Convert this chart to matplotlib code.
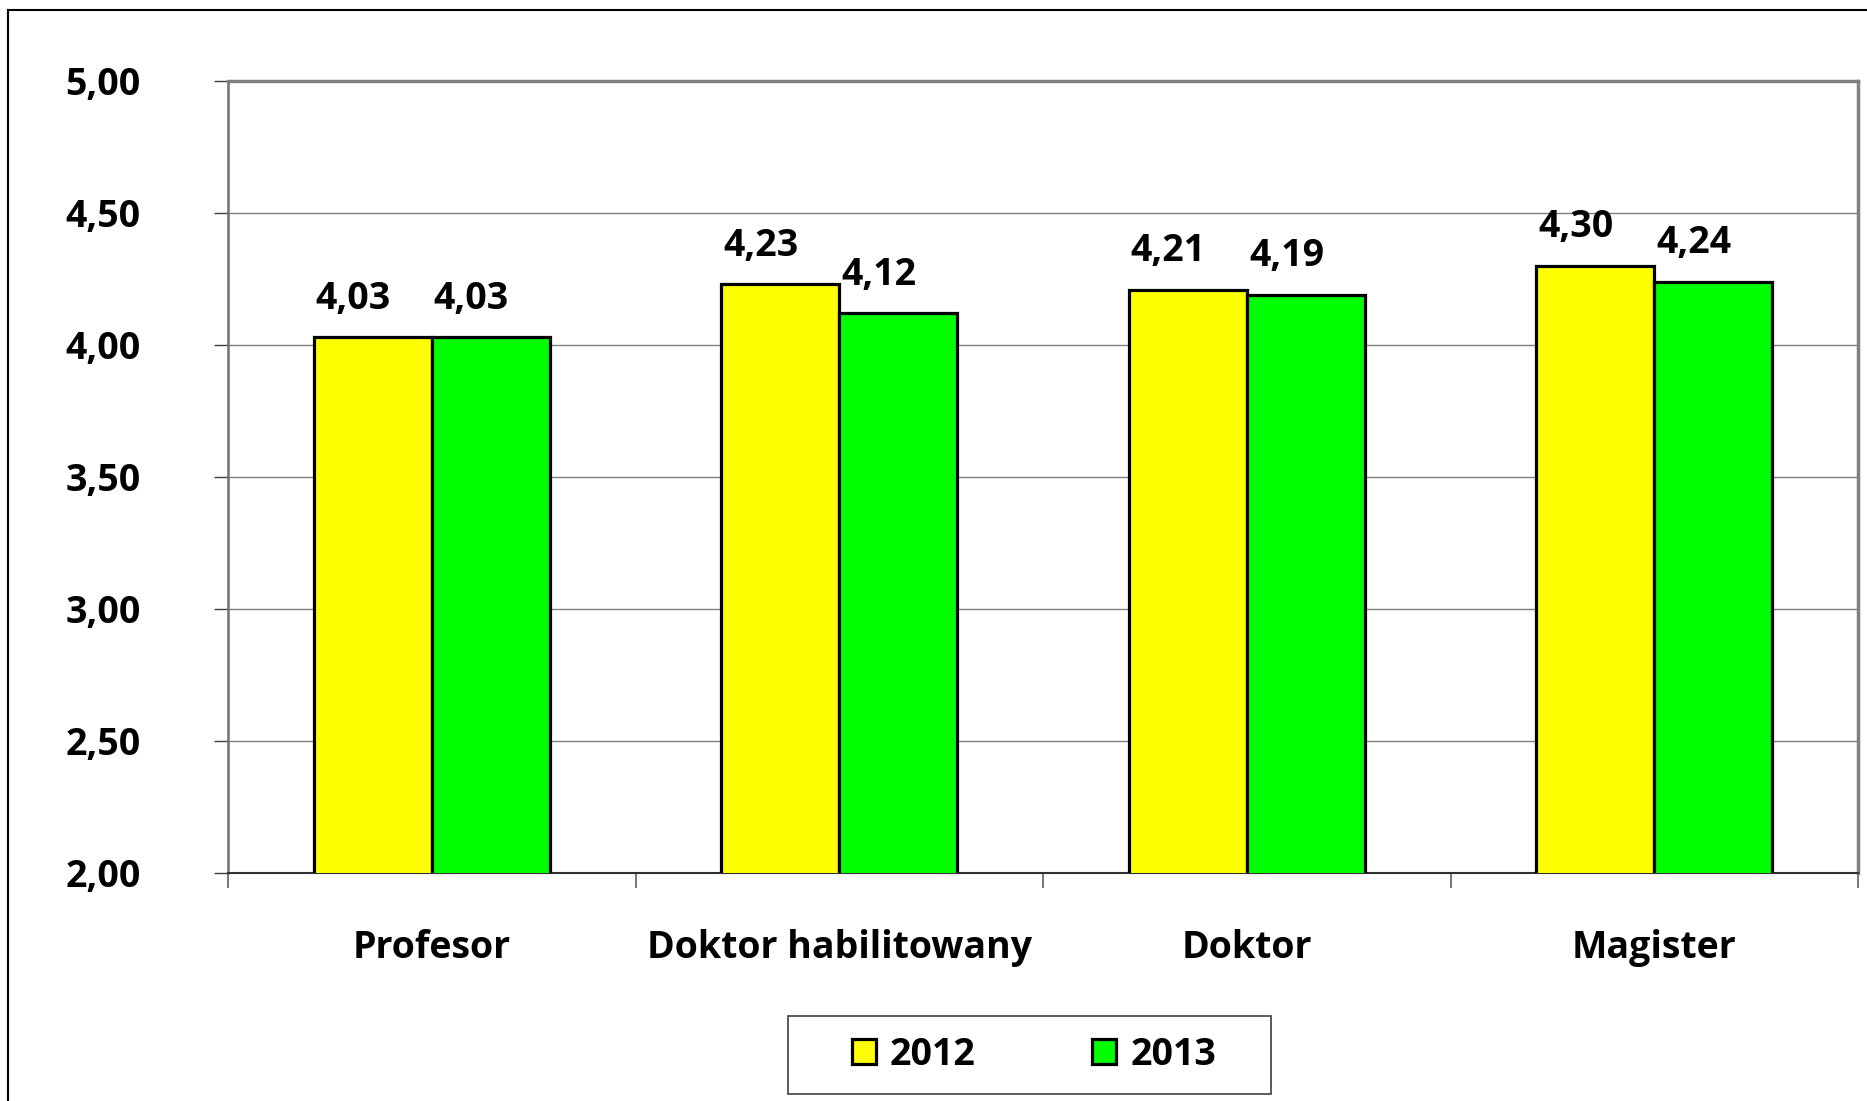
import matplotlib
matplotlib.use("Agg")
import matplotlib.pyplot as plt
import numpy as np
from matplotlib.lines import Line2D
from matplotlib.patches import Patch, Rectangle

categories = ["Profesor", "Doktor habilitowany", "Doktor", "Magister"]
years = ["2012", "2013"]
values_2012 = [4.03, 4.23, 4.21, 4.30]
values_2013 = [4.03, 4.12, 4.19, 4.24]
yticks = [2.00, 2.50, 3.00, 3.50, 4.00, 4.50, 5.00]
colors = ["#FFFF00", "#00FF00"]

plt.rcParams['font.family'] = ['Open Sans', 'DejaVu Sans']
FS = 27
WT = "bold"

W, H = 1867, 1101
fig = plt.figure(figsize=(W / 100, H / 100), dpi=100)
ax = fig.add_axes([228 / W, 1 - 873 / H, (1858 - 228) / W, (873 - 81) / H])

x = np.arange(len(categories))
bw = 0.29
b1 = ax.bar(x - bw / 2, values_2012, bw, color=colors[0], edgecolor="black", linewidth=2.3, zorder=3, label=years[0])
b2 = ax.bar(x + bw / 2, values_2013, bw, color=colors[1], edgecolor="black", linewidth=2.3, zorder=3, label=years[1])

for bars, vals in ((b1, values_2012), (b2, values_2013)):
    for rect, v in zip(bars, vals):
        ax.annotate(f"{v:.2f}".replace(".", ","),
                    xy=(rect.get_x() + rect.get_width() / 2, v),
                    xytext=(-14, 14), textcoords="offset points",
                    ha="center", va="bottom", fontsize=FS, fontweight=WT)

ax.set_xlim(-0.5, len(categories) - 0.5)
ax.set_ylim(2.0, 5.0)
ax.set_yticks(yticks)
ax.set_yticklabels([f"{t:.2f}".replace(".", ",") for t in yticks], fontsize=FS, fontweight=WT)
ax.yaxis.grid(True, color="#7f7f7f", linewidth=1.0, zorder=0)
ax.tick_params(axis="y", length=10, width=1, color="#404040", pad=53)

# category labels centered, ticks at boundaries
ax.set_xticks(np.arange(len(categories) + 1) - 0.5)
ax.set_xticklabels([])
ax.tick_params(axis="x", length=11, width=1.2, color="#606060", direction="out")
ax.set_xticks(x, minor=True)
ax.set_xticklabels(categories, minor=True, fontsize=FS, fontweight=WT)
ax.tick_params(axis="x", which="minor", length=0, pad=40)

ax.spines["top"].set_color("#808080")
ax.spines["top"].set_linewidth(2.5)
ax.spines["right"].set_color("#808080")
ax.spines["right"].set_linewidth(2.5)
ax.spines["left"].set_color("#707070")
ax.spines["left"].set_linewidth(1.8)
ax.spines["bottom"].set_color("#303030")
ax.spines["bottom"].set_linewidth(1.5)
ax.set_axisbelow(True)

# outer chart border (left and top visible)
fig.add_artist(Line2D([8 / W, 8 / W], [1 - 10 / H, -0.1], color="black", linewidth=1.5, transform=fig.transFigure))
fig.add_artist(Line2D([8 / W, 1.1], [1 - 10 / H, 1 - 10 / H], color="black", linewidth=1.5, transform=fig.transFigure))

# legend frame
fig.add_artist(Rectangle((788 / W, 1 - 1094 / H), (1271 - 788) / W, (1094 - 1016) / H,
                         transform=fig.transFigure, facecolor="white", edgecolor="#404040", linewidth=1.2))

handles = [Patch(facecolor=colors[0], edgecolor="black", linewidth=2.3),
           Patch(facecolor=colors[1], edgecolor="black", linewidth=2.3)]
leg = fig.legend(handles, years, loc="center", bbox_to_anchor=(1034 / W, 1 - 1055 / H),
                 ncol=2, prop={"size": FS, "weight": WT}, frameon=False,
                 handlelength=0.64, handleheight=0.64, handletextpad=0.38, columnspacing=3.1,
                 borderpad=0.3, borderaxespad=0)

fig.savefig("out.png", dpi=100, facecolor="white")
